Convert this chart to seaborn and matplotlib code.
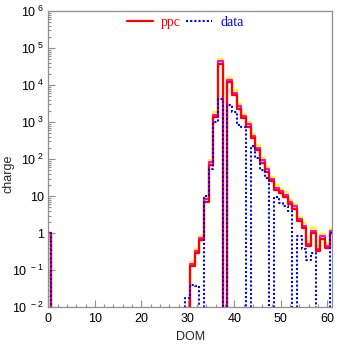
import numpy as np
import pandas as pd
import matplotlib
matplotlib.use("Agg")
import matplotlib.pyplot as plt
import seaborn as sns
from matplotlib.ticker import FixedLocator, LogLocator, FuncFormatter, NullFormatter
from matplotlib.lines import Line2D

# ---------------- data (DOM 0..61) ----------------
dom = list(range(0, 62))

ppc = [1.0] + [0]*29 + [0, 0.134, 0.30, 0.65, 7.1, 71, 1400, 38000, 0, 12000,
       5400, 2300, 1260, 760, 365, 177, 80, 46, 25, 15,
       12, 9.5, 6.0, 4.6, 2.1, 1.4, 0.45, 1.0, 0.33, 0.71,
       0.4, 1.0]
ppc_hi = [1.0] + [0]*29 + [0, 0.17, 0.38, 0.85, 9.5, 95, 1900, 52000, 0, 16000,
          7200, 3100, 1700, 1020, 490, 240, 108, 62, 34, 20,
          16, 12.8, 8.1, 6.2, 2.8, 1.9, 0.6, 1.35, 0.45, 0.95,
          0.55, 1.3]
ppc_mid = [1.0] + [0]*29 + [0, 0.15, 0.34, 0.74, 8.2, 82, 1600, 44000, 0, 13800,
           6200, 2650, 1450, 870, 420, 204, 92, 53, 29, 17,
           14, 10.9, 6.9, 5.3, 2.4, 1.6, 0.52, 1.15, 0.38, 0.82,
           0.46, 1.15]
data = [1.0] + [0]*29 + [0.018, 0.04, 0.037, 0, 10, 55, 1000, 4200, 0, 2900,
        1900, 850, 750, 0, 220, 107, 51, 31, 0, 9.8,
        6.6, 5.3, 4.0, 0, 0.85, 0.38, 0.19, 0.3, 0, 0,
        0, 1.0]

xticks = [0, 10, 20, 30, 40, 50, 60]
yticks = [1e-2, 1e-1, 1, 10, 1e2, 1e3, 1e4, 1e5, 1e6]

df = pd.DataFrame({"DOM": dom, "ppc": ppc, "ppc_hi": ppc_hi,
                   "ppc_mid": ppc_mid, "data": data})

sns.set_theme(style="white")
plt.rcParams["font.family"] = ["Liberation Sans", "DejaVu Sans"]

W, H = 337, 344
fig = plt.figure(figsize=(W/100, H/100), dpi=100)
ax = fig.add_axes([48.3/W, 1-307.3/H, (332-48.3)/W, (307.3-11)/H])

bins = [d - 0.5 for d in dom] + [dom[-1] + 0.5]
common = dict(x="DOM", bins=bins, element="step", fill=False, ax=ax)
sns.histplot(data=df, weights="ppc_hi", color="#ffff00", linewidth=1.6, **common)
sns.histplot(data=df, weights="ppc_mid", color="#ff00ff", linewidth=1.5, **common)
sns.histplot(data=df, weights="ppc", color="#ff0000", linewidth=1.6, **common)
sns.histplot(data=df, weights="data", color="#0000ff", linewidth=1.5,
             linestyle=(0, (1.0, 1.0)), **common)

ax.set_yscale("log")
ax.set_xlim(0, 61)
ax.set_ylim(1e-2, 1e6)

frame_c = "#8f8f8f"
for s in ax.spines.values():
    s.set_color(frame_c)
    s.set_linewidth(0.9)

ax.xaxis.set_major_locator(FixedLocator(xticks))
ax.xaxis.set_minor_locator(FixedLocator(list(range(0, 62, 2))))
ax.yaxis.set_major_locator(FixedLocator(yticks))
ax.yaxis.set_minor_locator(LogLocator(base=10, subs=np.arange(2, 10), numticks=20))
ax.yaxis.set_minor_formatter(NullFormatter())

def yfmt(v, pos):
    e = int(round(np.log10(v)))
    if e == 0:
        return "1"
    if e == 1:
        return "10"
    return r"$\mathregular{10^{\ %d}}$" % e

ax.yaxis.set_major_formatter(FuncFormatter(yfmt))
ax.tick_params(which="both", direction="in", color=frame_c, width=0.8,
               top=False, right=False, left=True, bottom=True,
               labelsize=9, labelcolor="black")
ax.tick_params(which="major", length=5)
ax.tick_params(which="minor", length=2.5)
ax.tick_params(axis="x", pad=4)
ax.tick_params(axis="y", pad=3)

ax.set_xlabel("DOM", fontsize=9, va="top")
ax.set_ylabel("charge", fontsize=9)
ax.xaxis.set_label_coords(0.5, -0.08)
ax.yaxis.set_label_coords(-0.12, 0.45)

handles = [Line2D([], [], color="#ff0000", lw=1.6),
           Line2D([], [], color="#0000ff", lw=1.5, linestyle=(0, (1.0, 1.0)))]
leg = ax.legend(handles, ["ppc", "data"], loc="center",
                bbox_to_anchor=(0.482, 0.9605), ncol=2, frameon=False,
                prop={"family": "Liberation Serif", "size": 10},
                handlelength=1.9, handletextpad=0.55, columnspacing=0.4,
                labelcolor=["#ff0000", "#0000ff"], borderpad=0.1)

fig.savefig("out.png", dpi=100)
